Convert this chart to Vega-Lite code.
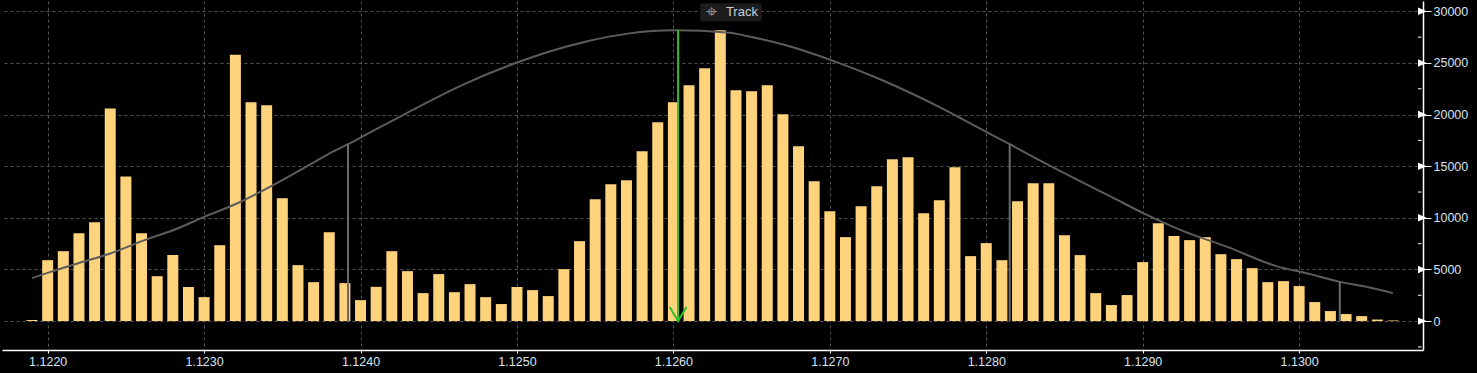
{
  "$schema": "https://vega.github.io/schema/vega-lite/v6.json",
  "width": 1421,
  "height": 349,
  "autosize": "none",
  "padding": {"left": 2, "top": 1, "right": 54, "bottom": 23},
  "background": "#000000",
  "config": {
    "view": {"stroke": null},
    "axis": {"labelFont": "Liberation Sans", "labelFontSize": 12.5, "labelColor": "#d8e4f0", "domainColor": "#ffffff", "domainWidth": 1.5, "tickColor": "#ffffff", "gridColor": "#555555", "gridDash": [3, 3], "gridWidth": 1}
  },
  "datasets": {
    "bars": [
      {"price": 1.1219, "volume": 100}, {"price": 1.1220, "volume": 5900}, {"price": 1.1221, "volume": 6770}, {"price": 1.1222, "volume": 8500},
      {"price": 1.1223, "volume": 9580}, {"price": 1.1224, "volume": 20600}, {"price": 1.1225, "volume": 14000}, {"price": 1.1226, "volume": 8500},
      {"price": 1.1227, "volume": 4350}, {"price": 1.1228, "volume": 6400}, {"price": 1.1229, "volume": 3300}, {"price": 1.1230, "volume": 2320},
      {"price": 1.1231, "volume": 7350}, {"price": 1.1232, "volume": 25800}, {"price": 1.1233, "volume": 21200}, {"price": 1.1234, "volume": 20900},
      {"price": 1.1235, "volume": 11900}, {"price": 1.1236, "volume": 5420}, {"price": 1.1237, "volume": 3770}, {"price": 1.1238, "volume": 8600},
      {"price": 1.1239, "volume": 3680}, {"price": 1.1240, "volume": 2030}, {"price": 1.1241, "volume": 3320}, {"price": 1.1242, "volume": 6770},
      {"price": 1.1243, "volume": 4840}, {"price": 1.1244, "volume": 2710}, {"price": 1.1245, "volume": 4550}, {"price": 1.1246, "volume": 2800},
      {"price": 1.1247, "volume": 3580}, {"price": 1.1248, "volume": 2320}, {"price": 1.1249, "volume": 1650}, {"price": 1.1250, "volume": 3300},
      {"price": 1.1251, "volume": 3000}, {"price": 1.1252, "volume": 2420}, {"price": 1.1253, "volume": 5030}, {"price": 1.1254, "volume": 7740},
      {"price": 1.1255, "volume": 11800}, {"price": 1.1256, "volume": 13260}, {"price": 1.1257, "volume": 13640}, {"price": 1.1258, "volume": 16450},
      {"price": 1.1259, "volume": 19260}, {"price": 1.1260, "volume": 21200}, {"price": 1.1261, "volume": 22840}, {"price": 1.1262, "volume": 24480},
      {"price": 1.1263, "volume": 28160}, {"price": 1.1264, "volume": 22350}, {"price": 1.1265, "volume": 22260}, {"price": 1.1266, "volume": 22840},
      {"price": 1.1267, "volume": 20030}, {"price": 1.1268, "volume": 16930}, {"price": 1.1269, "volume": 13550}, {"price": 1.1270, "volume": 10640},
      {"price": 1.1271, "volume": 8130}, {"price": 1.1272, "volume": 11130}, {"price": 1.1273, "volume": 13060}, {"price": 1.1274, "volume": 15680},
      {"price": 1.1275, "volume": 15870}, {"price": 1.1276, "volume": 10450}, {"price": 1.1277, "volume": 11710}, {"price": 1.1278, "volume": 14900},
      {"price": 1.1279, "volume": 6290}, {"price": 1.1280, "volume": 7550}, {"price": 1.1281, "volume": 5900}, {"price": 1.1282, "volume": 11610},
      {"price": 1.1283, "volume": 13350}, {"price": 1.1284, "volume": 13350}, {"price": 1.1285, "volume": 8320}, {"price": 1.1286, "volume": 6390},
      {"price": 1.1287, "volume": 2710}, {"price": 1.1288, "volume": 1550}, {"price": 1.1289, "volume": 2520}, {"price": 1.1290, "volume": 5710},
      {"price": 1.1291, "volume": 9480}, {"price": 1.1292, "volume": 8230}, {"price": 1.1293, "volume": 7840}, {"price": 1.1294, "volume": 8130},
      {"price": 1.1295, "volume": 6480}, {"price": 1.1296, "volume": 6000}, {"price": 1.1297, "volume": 5130}, {"price": 1.1298, "volume": 3770},
      {"price": 1.1299, "volume": 3870}, {"price": 1.1300, "volume": 3390}, {"price": 1.1301, "volume": 1840}, {"price": 1.1302, "volume": 970},
      {"price": 1.1303, "volume": 680}, {"price": 1.1304, "volume": 480}, {"price": 1.1305, "volume": 150}, {"price": 1.1306, "volume": 60}
    ],
    "curve": [
      {"price": 1.12190, "volume": 4160}, {"price": 1.12200, "volume": 4670}, {"price": 1.12219, "volume": 5580}, {"price": 1.12240, "volume": 6550},
      {"price": 1.12262, "volume": 7840}, {"price": 1.12283, "volume": 8970}, {"price": 1.12300, "volume": 10090}, {"price": 1.12321, "volume": 11390},
      {"price": 1.12342, "volume": 13000}, {"price": 1.12367, "volume": 15100}, {"price": 1.12382, "volume": 16380}, {"price": 1.12392, "volume": 17130},
      {"price": 1.12400, "volume": 17770}, {"price": 1.12429, "volume": 20100}, {"price": 1.12467, "volume": 23000}, {"price": 1.12501, "volume": 25090},
      {"price": 1.12522, "volume": 26160}, {"price": 1.12545, "volume": 27100}, {"price": 1.12571, "volume": 27840}, {"price": 1.12600, "volume": 28160},
      {"price": 1.12636, "volume": 27935}, {"price": 1.12647, "volume": 27610}, {"price": 1.12672, "volume": 26710}, {"price": 1.12700, "volume": 25320},
      {"price": 1.12731, "volume": 23490}, {"price": 1.12772, "volume": 20580}, {"price": 1.12800, "volume": 18320}, {"price": 1.12815, "volume": 17130},
      {"price": 1.12833, "volume": 15650}, {"price": 1.12865, "volume": 13160}, {"price": 1.12880, "volume": 12030}, {"price": 1.12900, "volume": 10480},
      {"price": 1.12926, "volume": 8710}, {"price": 1.12954, "volume": 7190}, {"price": 1.12985, "volume": 5350}, {"price": 1.13007, "volume": 4550},
      {"price": 1.13026, "volume": 3800}, {"price": 1.13045, "volume": 3260}, {"price": 1.13060, "volume": 2710}
    ],
    "markers": [
      {"price": 1.12392, "top": 17130, "base": 0}, {"price": 1.12815, "top": 17130, "base": 0}, {"price": 1.13026, "top": 3800, "base": 0}
    ],
    "current": [
      {"price": 1.12603, "top": 28160, "base": 0}
    ],
    "majorTicks": [
      {"v": 0}, {"v": 5000}, {"v": 10000}, {"v": 15000}, {"v": 20000}, {"v": 25000}, {"v": 30000}
    ],
    "minorTicks": [
      {"v": -2500}, {"v": 2500}, {"v": 7500}, {"v": 12500}, {"v": 17500}, {"v": 22500}, {"v": 27500}
    ],
    "button": [
      {"x1": 1.126171, "x2": 1.126565, "y1": 29030, "y2": 30770, "icon": 1.126241, "textx": 1.126438, "ty": 29900, "label": "Track"}
    ]
  },
  "layer": [
    {
      "data": {"name": "bars"},
      "mark": {"type": "bar", "size": 11, "color": "#ffd37b"},
      "encoding": {
        "x": {"field": "price", "type": "quantitative", "scale": {"domain": [1.12174, 1.13076], "nice": false, "zero": false},
          "axis": {"orient": "bottom", "title": null, "values": [1.122, 1.123, 1.124, 1.125, 1.126, 1.127, 1.128, 1.129, 1.13], "format": ".4f", "tickSize": 3, "labelPadding": 2, "grid": true}},
        "y": {"field": "volume", "type": "quantitative", "scale": {"domain": [-2800, 31000], "nice": false, "zero": false},
          "axis": {"orient": "right", "title": null, "values": [0, 5000, 10000, 15000, 20000, 25000, 30000], "format": "d",
            "tickSize": 8, "tickWidth": 1, "labelPadding": 2, "labelBaseline": "middle", "grid": true}}
      }
    },
    {
      "data": {"name": "curve"},
      "mark": {"type": "line", "color": "#5c5c5c", "strokeWidth": 2, "interpolate": "monotone"},
      "encoding": {
        "x": {"field": "price", "type": "quantitative"},
        "y": {"field": "volume", "type": "quantitative"}
      }
    },
    {
      "data": {"name": "markers"},
      "mark": {"type": "rule", "color": "#6a6a6a", "strokeWidth": 2},
      "encoding": {
        "x": {"field": "price", "type": "quantitative"},
        "y": {"field": "base", "type": "quantitative"},
        "y2": {"field": "top"}
      }
    },
    {
      "data": {"name": "current"},
      "mark": {"type": "rule", "color": "#2fbf2f", "strokeWidth": 2},
      "encoding": {
        "x": {"field": "price", "type": "quantitative"},
        "y": {"field": "base", "type": "quantitative"},
        "y2": {"field": "top"}
      }
    },
    {
      "data": {"name": "current"},
      "mark": {"type": "point", "shape": "M-0.6,-1L0,0L0.6,-1", "filled": false, "stroke": "#2fbf2f", "strokeWidth": 2, "size": 784, "opacity": 1},
      "encoding": {
        "x": {"field": "price", "type": "quantitative"},
        "y": {"field": "base", "type": "quantitative"}
      }
    },
    {
      "data": {"name": "majorTicks"},
      "mark": {"type": "point", "shape": "M0,-0.875L2,0L0,0.875Z", "filled": true, "color": "#ffffff", "size": 72, "opacity": 1},
      "encoding": {
        "x": {"datum": 1.13076, "type": "quantitative"},
        "y": {"field": "v", "type": "quantitative"}
      }
    },
    {
      "data": {"name": "minorTicks"},
      "mark": {"type": "point", "shape": "M0,0L1,0", "filled": false, "stroke": "#ffffff", "strokeWidth": 1, "size": 49, "opacity": 1},
      "encoding": {
        "x": {"datum": 1.13076, "type": "quantitative"},
        "y": {"field": "v", "type": "quantitative"}
      }
    },
    {
      "data": {"name": "button"},
      "mark": {"type": "rect", "color": "#1c1c1c", "cornerRadius": 2},
      "encoding": {
        "x": {"field": "x1", "type": "quantitative"},
        "x2": {"field": "x2"},
        "y": {"field": "y1", "type": "quantitative"},
        "y2": {"field": "y2"}
      }
    },
    {
      "data": {"name": "button"},
      "mark": {"type": "text", "text": "⌖", "font": "DejaVu Sans", "fontSize": 20, "color": "#8c8c8c", "baseline": "middle", "align": "center"},
      "encoding": {
        "x": {"field": "icon", "type": "quantitative"},
        "y": {"field": "ty", "type": "quantitative"}
      }
    },
    {
      "data": {"name": "button"},
      "mark": {"type": "text", "font": "Liberation Sans", "fontSize": 13, "color": "#c8d2dc", "baseline": "middle", "align": "center"},
      "encoding": {
        "x": {"field": "textx", "type": "quantitative"},
        "y": {"field": "ty", "type": "quantitative"},
        "text": {"field": "label"}
      }
    }
  ]
}
